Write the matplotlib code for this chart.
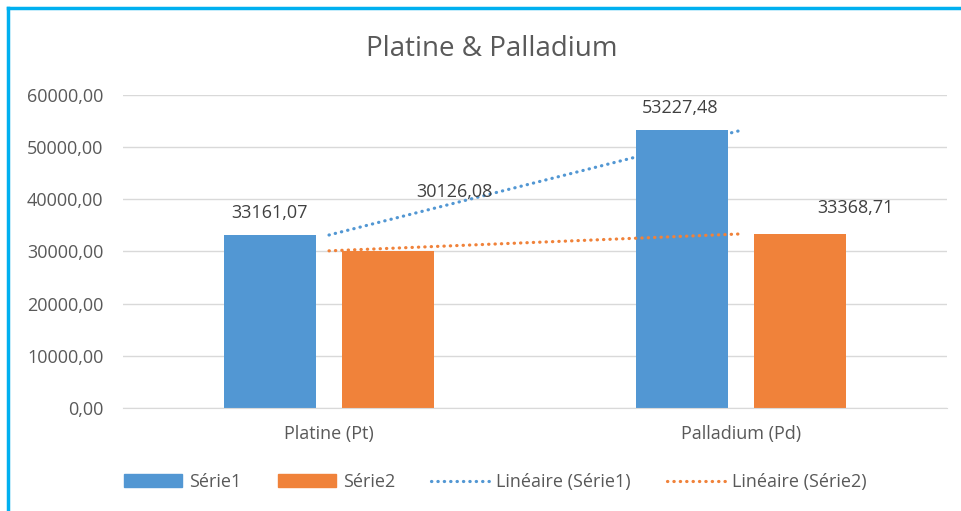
import numpy as np
import matplotlib
matplotlib.use('Agg')
from matplotlib import pyplot as plt
from matplotlib.patches import Patch
from matplotlib.lines import Line2D

categories = ['Platine (Pt)', 'Palladium (Pd)']
serie1 = [33161.07, 53227.48]
serie2 = [30126.08, 33368.71]
series_labels = ['Série1', 'Série2', 'Linéaire (Série1)', 'Linéaire (Série2)']
y_ticks = [0, 10000, 20000, 30000, 40000, 50000, 60000]
title = 'Platine & Palladium'

blue = '#5297D3'
orange = '#F0823A'
grey_txt = '#595959'
grid_c = '#D9D9D9'
dots = (0, (0.1, 1.9))

plt.rcParams['font.family'] = ['Open Sans', 'DejaVu Sans']


def fmt(v):
    return '{:.2f}'.format(v).replace('.', ',')


fig = plt.figure(figsize=(9.62, 5.11), dpi=100)
ax = fig.add_axes([0.1279, 0.2016, 0.8565, 0.6125])

x = np.arange(len(categories))
w = 0.225
off = 0.1435
ax.bar(x - off, serie1, width=w, color=blue, edgecolor='none', zorder=2)
ax.bar(x + off, serie2, width=w, color=orange, edgecolor='none', zorder=2)

# linear trendlines (Excel style, drawn between category centres)
for vals, c in ((serie1, blue), (serie2, orange)):
    k, m = np.polyfit(x, vals, 1)
    ax.plot(x, k * x + m, color=c, lw=2.3, ls=dots,
            dash_capstyle='round', zorder=3)

# data labels (offsets in points, some were dragged around in the original)
shift1 = [(0, 16), (-1, 16)]
shift2 = [(48, 42), (40, 19)]
for i, v in enumerate(serie1):
    ax.annotate(fmt(v), (x[i] - off, v), xytext=shift1[i], textcoords='offset points',
                ha='center', va='center', fontsize=13, color='#404040')
for i, v in enumerate(serie2):
    ax.annotate(fmt(v), (x[i] + off, v), xytext=shift2[i], textcoords='offset points',
                ha='center', va='center', fontsize=13, color='#404040')

ax.set_xlim(-0.5, 1.5)
ax.set_ylim(0, 60000)
ax.set_yticks(y_ticks)
ax.set_yticklabels([fmt(t) for t in y_ticks])
ax.set_xticks(x)
ax.set_xticklabels(categories)
ax.yaxis.grid(True, color=grid_c, lw=1, zorder=0)
ax.set_axisbelow(True)
for s in ['top', 'right', 'left']:
    ax.spines[s].set_visible(False)
ax.spines['bottom'].set_color(grid_c)
ax.tick_params(axis='both', length=0, labelsize=13, labelcolor=grey_txt)
ax.tick_params(axis='y', pad=14)
ax.tick_params(axis='x', pad=12)

fig.text(0.511, 1 - 49 / 511, title, ha='center', va='center', fontsize=20, color=grey_txt)

handles = [Patch(color=blue), Patch(color=orange),
           Line2D([], [], color=blue, lw=2.3, ls=dots, dash_capstyle='round'),
           Line2D([], [], color=orange, lw=2.3, ls=dots, dash_capstyle='round')]
fig.legend(handles, series_labels, loc='center', bbox_to_anchor=(0.515, 1 - 482 / 511),
           ncol=4, frameon=False, fontsize=13, labelcolor=grey_txt,
           handlelength=3.2, handleheight=0.7, columnspacing=2.0, handletextpad=0.4)

# blue frame on top and left
fig.add_artist(Line2D([8 / 962, 1], [1 - 8 / 511, 1 - 8 / 511], color='#00B0F0', lw=2.5,
                      transform=fig.transFigure))
fig.add_artist(Line2D([8 / 962, 8 / 962], [0, 1 - 8 / 511], color='#00B0F0', lw=2.5,
                      transform=fig.transFigure))

plt.savefig('out.png', dpi=100)
plt.close()
